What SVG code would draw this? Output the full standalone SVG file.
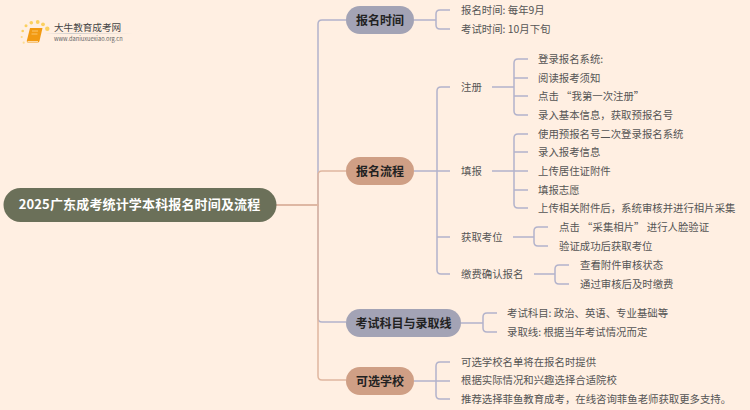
<svg xmlns="http://www.w3.org/2000/svg" width="750" height="410" viewBox="0 0 750 410">
<defs><linearGradient id="fade"><stop offset="0" stop-color="#ccc" stop-opacity="0"/><stop offset=".3" stop-color="#ccc"/><stop offset="1" stop-color="#ccc" stop-opacity="0"/></linearGradient></defs>
<style>
text{font-family:"Noto Sans CJK SC","Liberation Sans",sans-serif}
.t{font-size:10.4px;fill:#555;dominant-baseline:central}
.n{font-size:12px;font-weight:700;fill:#222;text-anchor:middle;dominant-baseline:central}
.c{fill:none;stroke-width:1.5}
.l{stroke:#b3b3cb}
.o{stroke:#e0b7a0}
.d{fill:#fbd05f}
</style>
<rect width="750" height="410" fill="#ffefe2"/>
<g id="logo">
<circle class="d" cx="22.700" cy="31" r="1.300"/><circle class="d" cx="26" cy="25.700" r="1.500"/><circle class="d" cx="31.300" cy="22.700" r="1.800"/><circle class="d" cx="37.700" cy="22" r="1.900"/><circle class="d" cx="43" cy="24.300" r="1.900"/><circle class="d" cx="47.300" cy="28.700" r="2.200"/><circle class="d" cx="21.700" cy="37" r="1.100" opacity=".7"/><circle class="d" cx="23.700" cy="42.700" r="1.100" opacity=".6"/>
<path d="M30 28h12.500l-3 13q-.4 1.500-2 1.500H27.500q-1-.3-.6-2z" fill="#f29a12"/><path d="M27.500 41.500h10.500" stroke="#fcd9a6" stroke-width="1"/><path d="M32 31h6M31.500 34h6" stroke="#fbc56b" stroke-width="1"/>
<rect x="45" y="33" width="88" height="1" fill="url(#fade)"/>
<text x="54" y="26.500" font-size="9.600" fill="#444" dominant-baseline="central">大牛教育成考网</text>
<text x="54" y="38.700" font-size="5.700" fill="#666" dominant-baseline="central" font-family="Liberation Sans">www.daniuxuexiao.org.cn</text>
</g>
<g id="connectors">
<path class="c l" d="M276 205H318V24Q318 20 322 20H346"/>
<path class="c l" d="M318 205V318Q318 322 322 322H346"/>
<path class="c o" d="M276 205H318V175Q318 171 322 171H346"/>
<path class="c o" d="M276 205H318V376Q318 380 322 380H346"/>
<path class="c l" d="M414 20H436M450 10H440Q436 10 436 14V25Q436 29 440 29H450"/>
<path class="c l" d="M414 171H450M450 87H441Q437 87 437 91V270Q437 274 441 274H450M437 237H450"/>
<path class="c l" d="M492 87H514M528 59H518Q514 59 514 63V111Q514 115 518 115H528M514 78H528M514 96H528"/>
<path class="c l" d="M492 171H528M528 134H518Q514 134 514 138V204Q514 208 518 208H528M514 152H528M514 190H528"/>
<path class="c l" d="M513 237H534M548 227H538Q534 227 534 231V242Q534 246 538 246H548"/>
<path class="c l" d="M534 274H555M569 265H559Q555 265 555 269V280Q555 284 559 284H569"/>
<path class="c l" d="M461 323H483M497 313H487Q483 313 483 317V328Q483 332 487 332H497"/>
<path class="c l" d="M414 381H450M450 362H440Q436 362 436 366V395Q436 399 440 399H450"/>
</g>
<g id="root"><rect x="3.500" y="188" width="273" height="34" rx="17" fill="#6b7059"/><text x="139.500" y="203.800" font-size="13" font-weight="700" fill="#fff" text-anchor="middle" dominant-baseline="central" letter-spacing=".15">2025广东成考统计学本科报名时间及流程</text></g>
<g id="n1"><rect x="346" y="6" width="68" height="28" rx="14" fill="#a3a3b5"/><text class="n" x="380" y="19">报名时间</text></g>
<g id="n2"><rect x="346" y="157" width="68" height="28" rx="14" fill="#cf9f85"/><text class="n" x="380" y="170">报名流程</text></g>
<g id="n3"><rect x="346" y="309" width="115" height="28" rx="14" fill="#a3a3b5"/><text class="n" x="403.500" y="322">考试科目与录取线</text></g>
<g id="n4"><rect x="346" y="367" width="68" height="28" rx="14" fill="#cf9f85"/><text class="n" x="380" y="380">可选学校</text></g>
<g id="labels" transform="translate(0,-1)">
<text class="t" x="461" y="10">报名时间: 每年9月</text>
<text class="t" x="461" y="29">考试时间: 10月下旬</text>
<text class="t" x="461" y="87">注册</text>
<text class="t" x="461" y="171">填报</text>
<text class="t" x="461" y="237">获取考位</text>
<text class="t" x="461" y="274">缴费确认报名</text>
<text class="t" x="538" y="59">登录报名系统:</text>
<text class="t" x="538" y="78">阅读报考须知</text>
<text class="t" x="538" y="96">点击 “我第一次注册”</text>
<text class="t" x="538" y="115">录入基本信息，获取预报名号</text>
<text class="t" x="538" y="134">使用预报名号二次登录报名系统</text>
<text class="t" x="538" y="152">录入报考信息</text>
<text class="t" x="538" y="171">上传居住证附件</text>
<text class="t" x="538" y="190">填报志愿</text>
<text class="t" x="538" y="208">上传相关附件后，系统审核并进行相片采集</text>
<text class="t" x="559" y="227">点击 “采集相片” 进行人脸验证</text>
<text class="t" x="559" y="246">验证成功后获取考位</text>
<text class="t" x="580" y="265">查看附件审核状态</text>
<text class="t" x="580" y="284">通过审核后及时缴费</text>
<text class="t" x="507" y="313">考试科目: 政治、英语、专业基础等</text>
<text class="t" x="507" y="332">录取线: 根据当年考试情况而定</text>
<text class="t" x="461" y="362">可选学校名单将在报名时提供</text>
<text class="t" x="461" y="380">根据实际情况和兴趣选择合适院校</text>
<text class="t" x="461" y="399">推荐选择菲鱼教育成考，在线咨询菲鱼老师获取更多支持。</text>
</g>
</svg>
